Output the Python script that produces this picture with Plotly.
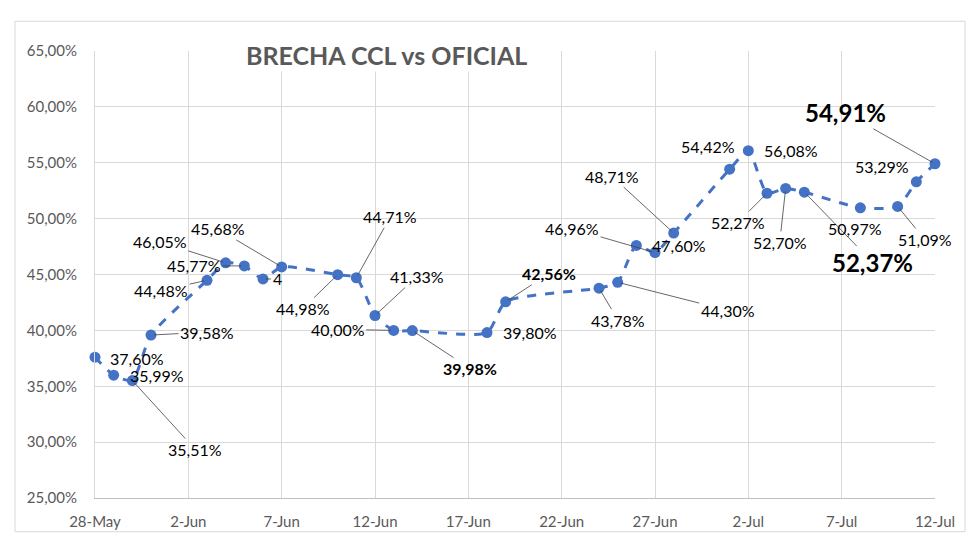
import plotly.graph_objects as go

fechas = [
    "2024-05-28", "2024-05-29", "2024-05-30", "2024-05-31",
    "2024-06-03", "2024-06-04", "2024-06-05", "2024-06-06", "2024-06-07",
    "2024-06-10", "2024-06-11", "2024-06-12", "2024-06-13", "2024-06-14",
    "2024-06-18", "2024-06-19",
    "2024-06-24", "2024-06-25", "2024-06-26", "2024-06-27", "2024-06-28",
    "2024-07-01", "2024-07-02", "2024-07-03", "2024-07-04", "2024-07-05",
    "2024-07-08", "2024-07-10", "2024-07-11", "2024-07-12",
]
brecha = [
    37.60, 35.99, 35.51, 39.58,
    44.48, 46.05, 45.77, 44.60, 45.68,
    44.98, 44.71, 41.33, 40.00, 39.98,
    39.80, 42.56,
    43.78, 44.30, 47.60, 46.96, 48.71,
    54.42, 56.08, 52.27, 52.70, 52.37,
    50.97, 51.09, 53.29, 54.91,
]
etiquetas = [
    "37,60%", "35,99%", "35,51%", "39,58%",
    "44,48%", "46,05%", "45,77%", "4", "45,68%",
    "44,98%", "44,71%", "41,33%", "40,00%", "39,98%",
    "39,80%", "42,56%",
    "43,78%", "44,30%", "47,60%", "46,96%", "48,71%",
    "54,42%", "56,08%", "52,27%", "52,70%", "52,37%",
    "50,97%", "51,09%", "53,29%", "54,91%",
]
# 0 = normal, 1 = negrita, 2 = negrita grande
estilo = [0] * 30
estilo[13] = 1
estilo[15] = 1
estilo[25] = 2
estilo[29] = 2

# (dx, dy, con_linea) en pixeles respecto del punto
pos = [
    (42, 1, False), (43, 0, False), (63, 69, True), (56, -3, True),
    (-46, 10, True), (-66, -21, True), (-50, 0, True), (14, 0, True), (-64, -38, True),
    (-35, 34, True), (34, -61, True), (42, -39, True), (-56, -1, True), (58, 38, True),
    (43, 0, False), (43, -28, True),
    (19, 32, True), (110, 28, True), (43, 0, False), (-83, -24, True), (-62, -57, True),
    (-22, -23, False), (43, 0, False), (-29, 29, True), (-6, 54, True), (68, 70, True),
    (-5, 21, False), (27, 33, True), (-34, -15, False), (-90, -51, True),
]

FONT = "Lato, Liberation Sans, sans-serif"
azul = "#4472C4"
gris = "#595959"

fig = go.Figure()
fig.add_trace(go.Scatter(
    x=fechas, y=[v / 100 for v in brecha],
    mode="lines+markers",
    line=dict(color=azul, width=3, dash="dash", shape="spline", smoothing=0.6),
    marker=dict(color=azul, size=11),
    cliponaxis=False,
    hoverinfo="skip",
))

for f, v, t, s, (dx, dy, linea) in zip(fechas, brecha, etiquetas, estilo, pos):
    size = 24 if s == 2 else 16
    txt = f"<b>{t}</b>" if s else t
    if linea:
        fig.add_annotation(
            x=f, y=v / 100, text=txt, showarrow=True,
            ax=dx, ay=dy, arrowhead=0, arrowwidth=0.8, arrowcolor="#404040",
            standoff=3, font=dict(family=FONT, size=size, color="black"),
        )
    else:
        fig.add_annotation(
            x=f, y=v / 100, text=txt, showarrow=False,
            xshift=dx, yshift=-dy, font=dict(family=FONT, size=size, color="black"),
        )

fig.add_annotation(
    x=0.3476, y=1.0, xref="paper", yref="paper", text="<b>BRECHA CCL vs OFICIAL</b>",
    showarrow=False, bgcolor="white", yanchor="middle", yshift=-4,
    font=dict(family=FONT, size=25, color=gris),
)

fig.add_shape(
    type="rect", xref="paper", yref="paper",
    x0=-0.0952, x1=1.0357, y0=-0.0754, y1=1.0665,
    line=dict(color="#d9d9d9", width=1), layer="below",
)

fig.update_layout(
    width=980, height=542,
    margin=dict(l=95, r=45, t=51, b=40),
    paper_bgcolor="white", plot_bgcolor="white",
    separators=",.",
    showlegend=False,
    font=dict(family=FONT, color=gris),
)
fig.update_xaxes(
    type="date", range=["2024-05-28", "2024-07-12"],
    tick0="2024-05-28", dtick=5 * 86400000, tickformat="%-d-%b",
    showgrid=True, gridcolor="#d9d9d9", gridwidth=1,
    showline=True, linecolor="#bfbfbf", linewidth=1,
    ticks="outside", ticklen=10, tickcolor="white",
    tickfont=dict(size=15, color=gris), zeroline=False,
)
fig.update_yaxes(
    range=[0.25, 0.65], dtick=0.05, tickformat=".2%",
    showgrid=True, gridcolor="#d9d9d9", gridwidth=1,
    showline=True, linecolor="#d9d9d9", linewidth=1,
    ticks="outside", ticklen=14, tickcolor="white",
    tickfont=dict(size=15, color=gris), zeroline=False,
)

fig.write_html(
    "out.html",
    config={"displayModeBar": False},
    post_script="document.body.style.margin='0';",
)
